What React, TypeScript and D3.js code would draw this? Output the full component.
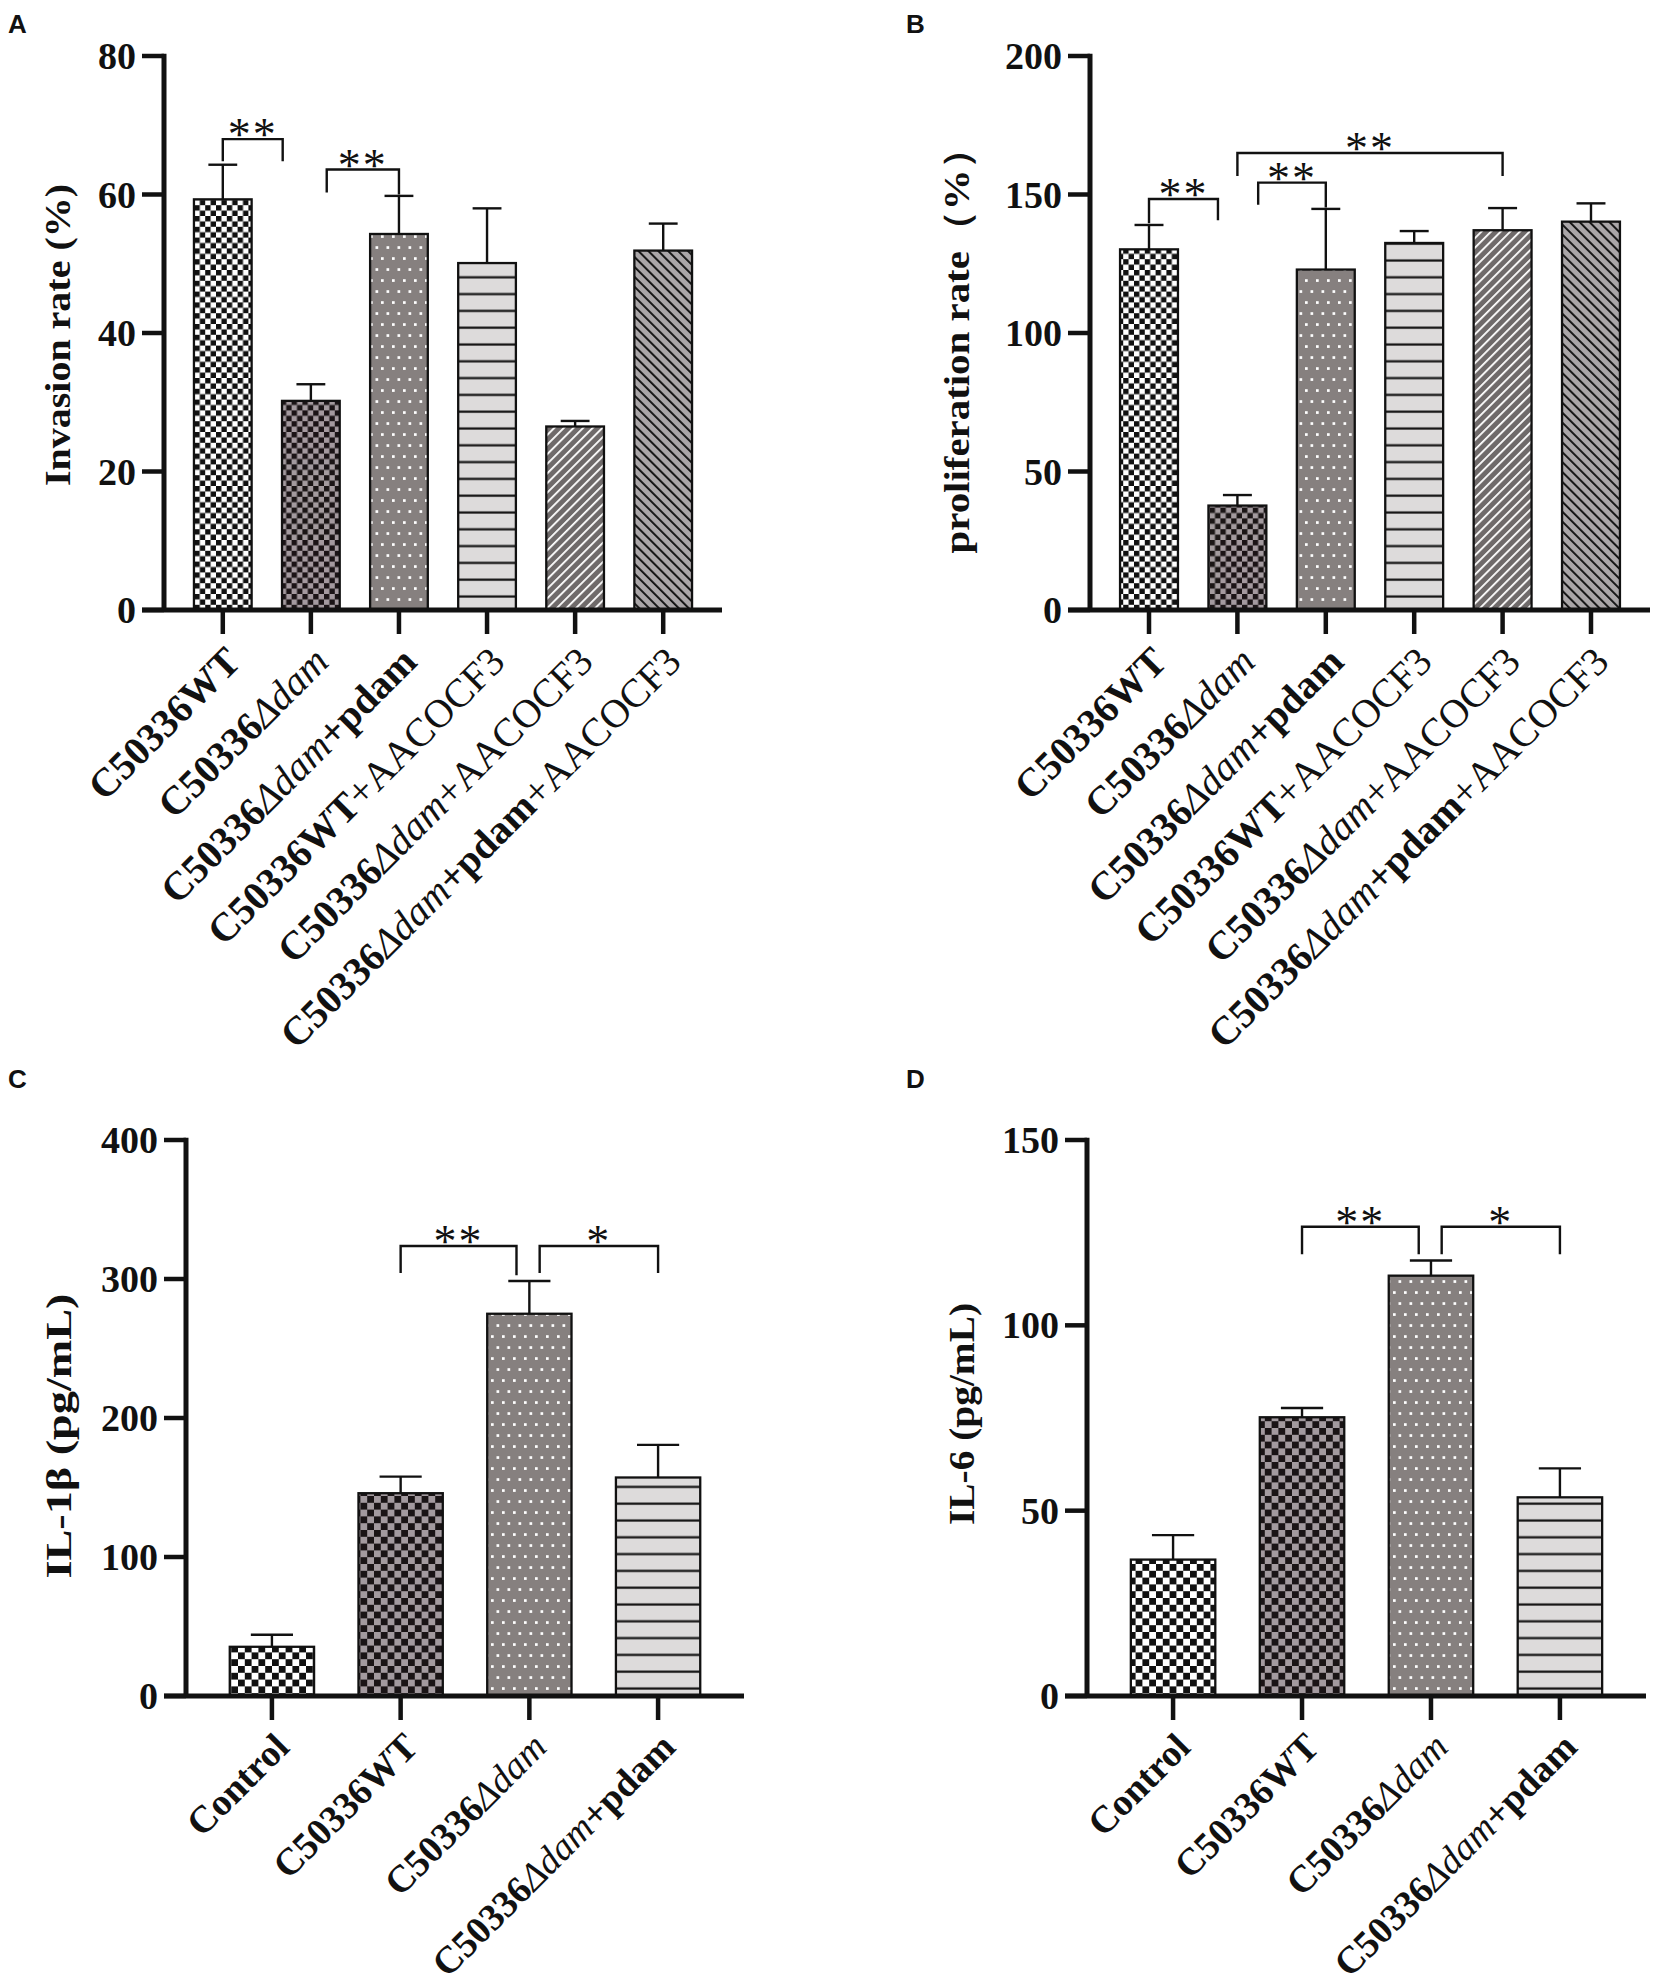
import { useEffect } from 'react'
import * as d3 from 'd3'

type Seg = [string, 'b' | 'i' | 'r']

// category labels (bold / italic / regular segments)
const groupsAB: Seg[][] = [
  [['C50336WT', 'b']],
  [['C50336', 'b'], ['Δdam', 'i']],
  [['C50336', 'b'], ['Δdam', 'i'], ['+pdam', 'b']],
  [['C50336WT', 'b'], ['+AACOCF3', 'r']],
  [['C50336', 'b'], ['Δdam', 'i'], ['+AACOCF3', 'r']],
  [['C50336', 'b'], ['Δdam', 'i'], ['+pdam', 'b'], ['+AACOCF3', 'r']]
]
const groupsCD: Seg[][] = [
  [['Control', 'b']],
  [['C50336WT', 'b']],
  [['C50336', 'b'], ['Δdam', 'i']],
  [['C50336', 'b'], ['Δdam', 'i'], ['+pdam', 'b']]
]

// values (mean, SEM)
const invasionMean = [59.3, 30.2, 54.3, 50.1, 26.5, 51.9]
const invasionSem = [5.0, 2.4, 5.5, 7.9, 0.8, 3.9]
const prolifMean = [130.2, 37.7, 122.9, 132.5, 137.1, 140.2]
const prolifSem = [8.8, 3.8, 21.9, 4.3, 8.0, 6.6]
const il1bMean = [35.4, 145.9, 275.0, 157.2]
const il1bSem = [8.7, 11.9, 23.6, 23.5]
const il6Mean = [36.8, 75.2, 113.4, 53.6]
const il6Sem = [6.6, 2.5, 4.1, 7.8]

const invasionTicks = [0, 20, 40, 60, 80]
const prolifTicks = [0, 50, 100, 150, 200]
const il1bTicks = [0, 100, 200, 300, 400]
const il6Ticks = [0, 50, 100, 150]

interface Bracket {
  from: number
  fromShift: number
  to: number
  toShift: number
  y: number
  leftEnd: number
  rightEnd: number
  mark: string
}

const invasionSig: Bracket[] = [
  { from: 0, fromShift: 0, to: 1, toShift: -0.32, y: 68, leftEnd: 64.8, rightEnd: 64.8, mark: '**' },
  { from: 1, fromShift: 0.18, to: 2, toShift: 0, y: 63.6, leftEnd: 60.3, rightEnd: 60.0, mark: '**' }
]
const prolifSig: Bracket[] = [
  { from: 0, fromShift: 0, to: 1, toShift: -0.22, y: 148.4, leftEnd: 139.6, rightEnd: 140.7, mark: '**' },
  { from: 1, fromShift: 0.235, to: 2, toShift: 0, y: 154.3, leftEnd: 146.3, rightEnd: 145.3, mark: '**' },
  { from: 1, fromShift: 0, to: 4, toShift: 0, y: 165, leftEnd: 156.7, rightEnd: 156.7, mark: '**' }
]
const il1bSig: Bracket[] = [
  { from: 1, fromShift: 0, to: 2, toShift: -0.1, y: 323.7, leftEnd: 304.3, rightEnd: 302.7, mark: '**' },
  { from: 2, fromShift: 0.08, to: 3, toShift: 0, y: 323.7, leftEnd: 304.3, rightEnd: 304.3, mark: '*' }
]
const il6Sig: Bracket[] = [
  { from: 1, fromShift: 0, to: 2, toShift: -0.095, y: 126.6, leftEnd: 119.2, rightEnd: 119.2, mark: '**' },
  { from: 2, fromShift: 0.083, to: 3, toShift: 0, y: 126.6, leftEnd: 119.2, rightEnd: 119.2, mark: '*' }
]

interface PanelCfg {
  key: string
  letter: string
  letterX: number
  letterY: number
  groups: Seg[][]
  mean: number[]
  sem: number[]
  ticks: number[]
  sig: Bracket[]
  title: string
  titleX: number
  titleShift: number
  titleLen: number
  labelSize: number
  axisX: number
  xEnd: number
  top: number
  bottom: number
  check: number
}

const panels: PanelCfg[] = [
  {
    key: 'a', letter: 'A', letterX: 8, letterY: 33, groups: groupsAB, mean: invasionMean, sem: invasionSem,
    ticks: invasionTicks, sig: invasionSig, title: 'Invasion rate (%)', titleX: 70, titleShift: 2, titleLen: 302,
    labelSize: 40, axisX: 164, xEnd: 722, top: 56, bottom: 610, check: 5.4
  },
  {
    key: 'b', letter: 'B', letterX: 906, letterY: 33, groups: groupsAB, mean: prolifMean, sem: prolifSem,
    ticks: prolifTicks, sig: prolifSig, title: 'proliferation rate（%）', titleX: 969, titleShift: 8, titleLen: 425,
    labelSize: 40, axisX: 1090, xEnd: 1650, top: 56, bottom: 610, check: 5.4
  },
  {
    key: 'c', letter: 'C', letterX: 8, letterY: 1088, groups: groupsCD, mean: il1bMean, sem: il1bSem,
    ticks: il1bTicks, sig: il1bSig, title: 'IL-1β (pg/mL)', titleX: 71, titleShift: 18, titleLen: 285,
    labelSize: 38, axisX: 186, xEnd: 744, top: 1140, bottom: 1696, check: 6.8
  },
  {
    key: 'd', letter: 'D', letterX: 906, letterY: 1088, groups: groupsCD, mean: il6Mean, sem: il6Sem,
    ticks: il6Ticks, sig: il6Sig, title: 'IL-6 (pg/mL)', titleX: 974, titleShift: -4, titleLen: 222,
    labelSize: 38, axisX: 1087, xEnd: 1646, top: 1140, bottom: 1696, check: 6.8
  }
]

const SERIF = '"Liberation Serif", "Times New Roman", serif'
const INK = '#111'

function Patterns({ id, check }: { id: string; check: number }) {
  const c2 = check * 2
  return (
    <defs>
      <pattern id={`${id}-p0`} patternUnits="userSpaceOnUse" width={c2} height={c2}>
        <rect width={c2} height={c2} fill="#fff" />
        <rect width={check} height={check} fill={INK} />
        <rect x={check} y={check} width={check} height={check} fill={INK} />
      </pattern>
      <pattern id={`${id}-p1`} patternUnits="userSpaceOnUse" width={c2} height={c2}>
        <rect width={c2} height={c2} fill="#a39a9f" />
        <rect width={check} height={check} fill="#1a1416" />
        <rect x={check} y={check} width={check} height={check} fill="#1a1416" />
      </pattern>
      <pattern id={`${id}-p2`} patternUnits="userSpaceOnUse" width={11} height={22}>
        <rect width={11} height={22} fill="#86807f" />
        <rect x={1.5} y={4.2} width={2.7} height={2.7} fill="#fff" />
        <rect x={7} y={15.2} width={2.7} height={2.7} fill="#fff" />
      </pattern>
      <pattern id={`${id}-p3`} patternUnits="userSpaceOnUse" width={10} height={16.8}>
        <rect width={10} height={16.8} fill="#dddbdb" />
        <rect y={7.4} width={10} height={2.2} fill={INK} />
      </pattern>
      <pattern id={`${id}-p4`} patternUnits="userSpaceOnUse" width={6.8} height={10} patternTransform="rotate(45)">
        <rect width={6.8} height={10} fill="#6f6a6a" />
        <rect width={1.8} height={10} fill="#fff" />
      </pattern>
      <pattern id={`${id}-p5`} patternUnits="userSpaceOnUse" width={7} height={10} patternTransform="rotate(-45)">
        <rect width={7} height={10} fill="#aaa6a8" />
        <rect width={1.9} height={10} fill={INK} />
      </pattern>
    </defs>
  )
}

function Panel({ p }: { p: PanelCfg }) {
  const n = p.groups.length
  const x = d3.scaleBand<number>()
    .domain(d3.range(n))
    .range([p.axisX, p.xEnd])
    .paddingInner(0.345)
    .paddingOuter(0.34)
  const y = d3.scaleLinear()
    .domain([0, d3.max(p.ticks) as number])
    .range([p.bottom, p.top])
  const bw = x.bandwidth()
  const step = x.step()
  const cx = (i: number) => (x(i) as number) + bw / 2
  const tickLen = 22
  const midY = (p.top + p.bottom) / 2 + p.titleShift

  return (
    <g>
      <Patterns id={p.key} check={p.check} />
      <text x={p.letterX} y={p.letterY} fontFamily='"Liberation Sans", Arial, sans-serif'
        fontWeight="bold" fontSize={26} fill={INK}>{p.letter}</text>

      {/* bars */}
      {p.mean.map((v, i) => (
        <rect key={`bar${i}`} x={x(i)} y={y(v)} width={bw} height={y(0) - y(v)}
          fill={`url(#${p.key}-p${i})`} stroke={INK} strokeWidth={2.3} />
      ))}

      {/* error bars (upper only) */}
      {p.mean.map((v, i) => (
        <g key={`err${i}`} stroke={INK} strokeWidth={2.4}>
          <line x1={cx(i)} x2={cx(i)} y1={y(v)} y2={y(v + p.sem[i])} />
          <line x1={cx(i) - bw / 4} x2={cx(i) + bw / 4} y1={y(v + p.sem[i])} y2={y(v + p.sem[i])} />
        </g>
      ))}

      {/* significance brackets */}
      {p.sig.map((b, i) => {
        const x1 = cx(b.from) + b.fromShift * step
        const x2 = cx(b.to) + b.toShift * step
        return (
          <g key={`sig${i}`}>
            <path d={`M${x1},${y(b.leftEnd)}V${y(b.y)}H${x2}V${y(b.rightEnd)}`}
              fill="none" stroke={INK} strokeWidth={2.4} />
            <text x={(x1 + x2) / 2} y={y(b.y) + 11} textAnchor="middle" fontFamily={SERIF}
              fontSize={46} letterSpacing={2} fill={INK}>{b.mark}</text>
          </g>
        )
      })}

      {/* y axis */}
      <line x1={p.axisX} x2={p.axisX} y1={p.top - 2.2} y2={p.bottom} stroke={INK} strokeWidth={5} />
      {p.ticks.map(t => (
        <g key={`yt${t}`}>
          <line x1={p.axisX - tickLen} x2={p.axisX} y1={y(t)} y2={y(t)} stroke={INK} strokeWidth={4.5} />
          <text x={p.axisX - tickLen - 6} y={y(t)} textAnchor="end" dominantBaseline="central"
            fontFamily={SERIF} fontWeight="bold" fontSize={38} fill={INK}>{t}</text>
        </g>
      ))}
      <text transform={`translate(${p.titleX},${midY}) rotate(-90)`} textAnchor="middle"
        fontFamily={SERIF} fontWeight="bold" fontSize={36} fill={INK}
        textLength={p.titleLen} lengthAdjust="spacingAndGlyphs">{p.title}</text>

      {/* x axis */}
      <line x1={p.axisX - tickLen} x2={p.xEnd} y1={p.bottom} y2={p.bottom} stroke={INK} strokeWidth={5} />
      {p.groups.map((g, i) => (
        <g key={`xt${i}`}>
          <line x1={cx(i)} x2={cx(i)} y1={p.bottom} y2={p.bottom + 24} stroke={INK} strokeWidth={4.5} />
          <text transform={`translate(${cx(i) + 10},${p.bottom + 44}) rotate(-45)`} textAnchor="end"
            dominantBaseline="central" fontFamily={SERIF} fontSize={p.labelSize} fill={INK}>
            {g.map(([s, st], k) => (
              <tspan key={k} fontWeight={st === 'b' ? 'bold' : 'normal'}
                fontStyle={st === 'i' ? 'italic' : 'normal'}>{s}</tspan>
            ))}
          </text>
        </g>
      ))}
    </g>
  )
}

export default function App() {
  useEffect(() => {
    document.body.style.margin = '0'
  }, [])
  return (
    <svg width={1654} height={1987} viewBox="0 0 1654 1987" style={{ display: 'block', background: '#fff' }}>
      <rect width={1654} height={1987} fill="#fff" />
      {panels.map(p => <Panel key={p.key} p={p} />)}
    </svg>
  )
}
